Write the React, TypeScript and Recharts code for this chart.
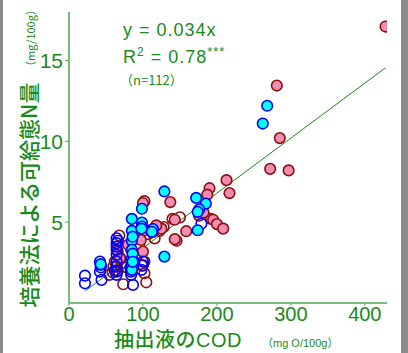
import React from 'react';
import { ScatterChart, Scatter, XAxis, YAxis, ReferenceLine } from 'recharts';

// pink filled markers (dark red outline)
const PINK_X = [428, 281, 285, 272, 297, 213, 217, 190, 187, 137, 100, 143, 176, 192, 195, 200, 208.5, 158.5, 145.5, 143, 100, 93, 100, 65.8, 69, 125, 97, 88, 80, 182, 118];
const PINK_Y = [17.1, 13.45, 10.2, 8.3, 8.2, 7.6, 6.8, 7.1, 6.7, 6.24, 6.18, 5.15, 5.4, 5.2, 5.15, 4.88, 4.6, 4.44, 3.85, 3.95, 4.46, 4.0, 3.18, 3.18, 2.77, 4.6, 3.9, 4.3, 3.6, 5.6, 4.8];

// dark red hollow markers
const RED_X = [68, 73.4, 54.5, 60, 71, 118, 122.5, 115.8, 106.8, 102, 104.5, 102, 62, 69, 140, 102, 110, 95, 90, 78, 66, 113, 128, 92, 99, 59, 84, 150];
const RED_Y = [4.17, 1.16, 1.74, 2.25, 2.46, 4.67, 4.46, 4.0, 4.26, 1.84, 1.28, 2.56, 2.56, 2.8, 5.2, 6.3, 4.5, 3.6, 4.1, 2.2, 2.0, 4.4, 4.7, 2.9, 2.3, 1.9, 3.3, 5.3];

// cyan filled markers (blue outline)
const CYAN_X = [268, 262, 129, 172, 185, 176, 174, 174, 98.6, 85, 98.6, 98.6, 113.5, 112, 85, 85, 85, 85, 85, 85, 129, 42.8, 86, 86, 98, 86];
const CYAN_Y = [12.2, 11.1, 6.9, 6.5, 6.15, 5.8, 5.64, 4.5, 5.83, 5.2, 4.98, 4.73, 4.57, 4.4, 4.46, 3.84, 3.29, 2.77, 2.36, 2.05, 2.87, 2.4, 3.05, 2.55, 4.6, 4.1];

// blue hollow markers
const BLUE_X = [21.6, 21.6, 41.9, 42.8, 41.9, 44, 64.4, 64.4, 64.4, 64.4, 64.4, 64.4, 64.4, 64.4, 64.4, 83.8, 86.5, 84, 100, 98, 100, 179, 83, 66, 43, 62, 88];
const BLUE_Y = [1.69, 1.22, 2.56, 2.36, 1.94, 1.43, 4.0, 3.7, 3.49, 3.29, 2.98, 2.56, 2.25, 1.94, 1.74, 1.94, 1.12, 1.74, 2.35, 2.05, 2.56, 4.9, 2.2, 3.85, 2.2, 2.0, 2.5];

const X_TICKS = [0, 100, 200, 300, 400];
const Y_TICKS = [5, 10, 15];
const SLOPE = 0.034;
const FIT_FROM = 22;
const FIT_TO = 428;

const toPts = (xs: number[], ys: number[]) => xs.map((x, i) => ({ x, y: ys[i] }));

const GREEN = '#1a8a1a';
const AXIS = '#4caa4c';
const JP = "'Noto Sans CJK JP', sans-serif";
const NUM = "'Liberation Sans Narrow', 'Liberation Sans', sans-serif";
const LAT = "'Liberation Sans', sans-serif";
const MIX = "'Liberation Sans', 'Noto Sans CJK JP', sans-serif";

const dot = (fill: string, stroke: string) => (p: any) => (
  <circle cx={p.cx} cy={p.cy} r={5.3} fill={fill} stroke={stroke} strokeWidth={1.6} />
);

const sup = (size: number): React.CSSProperties => ({ fontSize: size, lineHeight: 0, verticalAlign: 'super' });

export default function App() {
  return (
    <div style={{ position: 'fixed', left: 0, top: 0, width: 408, height: 353, background: '#fff', overflow: 'hidden' }}>
      <ScatterChart width={408} height={353} margin={{ top: 12, right: 21, bottom: 30, left: 29 }}>
        <XAxis
          type="number"
          dataKey="x"
          domain={[0, 430]}
          ticks={X_TICKS}
          allowDataOverflow
          height={20}
          tickSize={3}
          tickMargin={1}
          axisLine={{ stroke: AXIS, strokeWidth: 1.5 }}
          tickLine={{ stroke: AXIS }}
          tick={{ fill: GREEN, fontSize: 20, fontFamily: NUM }}
        />
        <YAxis
          type="number"
          dataKey="y"
          domain={[0, 18]}
          ticks={Y_TICKS}
          allowDataOverflow
          width={40}
          tickSize={4}
          axisLine={{ stroke: AXIS, strokeWidth: 1.5 }}
          tickLine={{ stroke: AXIS }}
          tick={{ fill: GREEN, fontSize: 21, fontFamily: NUM }}
        />
        <Scatter data={toPts(RED_X, RED_Y)} shape={dot('none', '#8b1010')} isAnimationActive={false} />
        <Scatter data={toPts(PINK_X, PINK_Y)} shape={dot('#f28cb0', '#8b1010')} isAnimationActive={false} />
        <Scatter data={toPts(BLUE_X, BLUE_Y)} shape={dot('none', '#0000ff')} isAnimationActive={false} />
        <Scatter data={toPts(CYAN_X, CYAN_Y)} shape={dot('#00ffff', '#0000ff')} isAnimationActive={false} />
        <ReferenceLine
          segment={[{ x: FIT_FROM, y: SLOPE * FIT_FROM }, { x: FIT_TO, y: SLOPE * FIT_TO }]}
          stroke="#1a8a1a"
          strokeWidth={1}
          ifOverflow="visible"
        />
      </ScatterChart>

      <div style={{ position: 'absolute', left: 0, top: 0, width: 3, height: 353, background: '#8c8c8c' }} />
      <div style={{ position: 'absolute', left: 401, top: 0, width: 7, height: 353, background: '#8c8c8c' }} />

      <div style={{ position: 'absolute', left: 123, top: 19, color: GREEN, fontFamily: LAT, fontSize: 18, letterSpacing: 1, whiteSpace: 'nowrap', lineHeight: '22px' }}>
        y = 0.034x
      </div>
      <div style={{ position: 'absolute', left: 123, top: 46, color: GREEN, fontFamily: LAT, fontSize: 18, letterSpacing: 1, whiteSpace: 'nowrap', lineHeight: '22px' }}>
        R<span style={sup(12)}>2</span> = 0.78<span style={sup(13)}>***</span>
      </div>
      <div style={{ position: 'absolute', left: 120, top: 72, color: GREEN, fontFamily: JP, fontSize: 13, whiteSpace: 'nowrap', lineHeight: '16px' }}>
        （n=112）
      </div>

      <div style={{ position: 'absolute', left: 28, top: 195, transform: 'translate(-50%, -50%) rotate(-90deg)', color: GREEN, fontFamily: JP, fontSize: 21, fontWeight: 500, whiteSpace: 'nowrap', lineHeight: '24px' }}>
        培養法による可給態N量
      </div>
      <div style={{ position: 'absolute', left: 30, top: 38, transform: 'translate(-50%, -50%) rotate(-90deg)', color: GREEN, fontFamily: JP, fontSize: 11, whiteSpace: 'nowrap', lineHeight: '14px' }}>
        （mg/100g）
      </div>
      <div style={{ position: 'absolute', left: 114, top: 330, color: GREEN, fontFamily: MIX, fontSize: 20, fontWeight: 500, whiteSpace: 'nowrap', lineHeight: '20px', letterSpacing: 0.5 }}>
        抽出液のCOD
      </div>
      <div style={{ position: 'absolute', left: 262, top: 335, color: GREEN, fontFamily: MIX, fontSize: 11, whiteSpace: 'nowrap', lineHeight: '16px' }}>
        （mg O/100g）
      </div>
    </div>
  );
}
